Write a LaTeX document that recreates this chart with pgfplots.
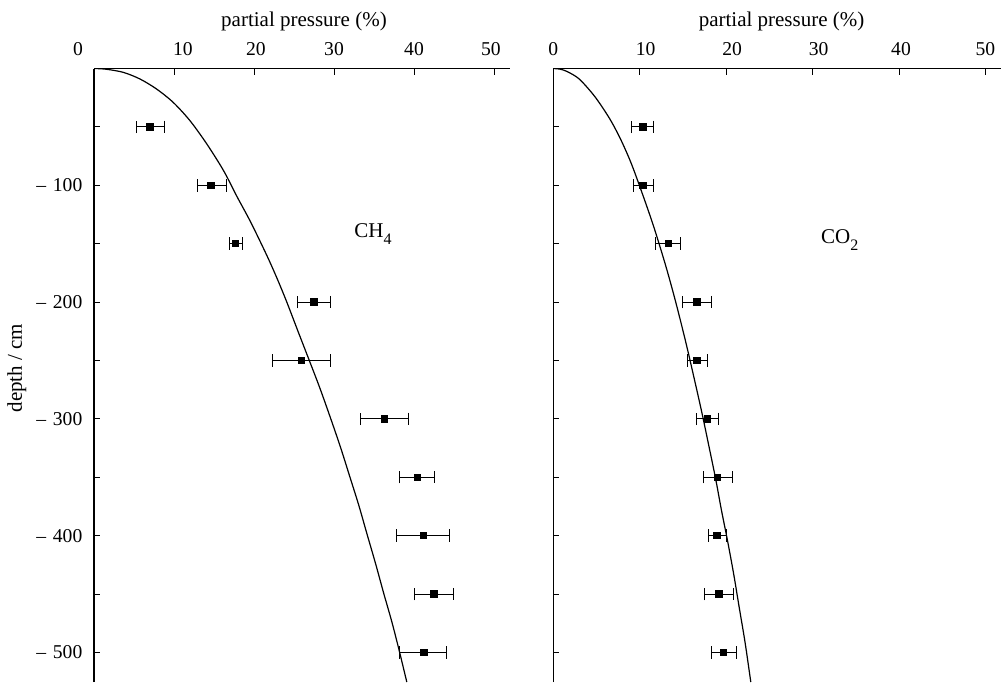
\documentclass[border=0pt]{standalone}
\usepackage{fontspec}
\setmainfont{Liberation Serif}
\usepackage{pgfplots}
\usepackage{pgfplotstable}
\pgfplotsset{compat=1.18}

\pgfplotstableread{
x y ep em
7.0 -50 1.8 1.75
14.6 -100 1.9 1.7
17.7 -150 0.9 0.8
27.5 -200 2.1 2.1
25.9 -250 3.6 3.65
36.3 -300 3.0 3.0
40.4 -350 2.2 2.2
41.2 -400 3.2 3.4
42.5 -450 2.4 2.4
41.25 -500 2.75 3.0
}\chdata

\pgfplotstableread{
x y ep em
10.35 -50 1.25 1.28
10.35 -100 1.19 1.09
13.3 -150 1.4 1.5
16.6 -200 1.7 1.7
16.6 -250 1.2 1.05
17.8 -300 1.26 1.25
19.0 -350 1.7 1.6
18.95 -400 1.05 1.05
19.15 -450 1.65 1.65
19.7 -500 1.5 1.45
}\codata

\newcommand{\sh}[2]{\makebox[0pt]{\hspace{#1}#2\hspace{-#1}}}
\newcommand{\sub}[1]{\raisebox{-3.3pt}{\fontsize{8}{9}\selectfont #1}}

\pgfplotsset{
  mystyle/.style={
    scale only axis,
    height=306.75pt,
    ymin=-525.3, ymax=0,
    xmin=0,
    axis x line=top,
    axis y line=left,
    axis line style={-, line width=0.6pt},
    tick align=inside,
    major tick length=3pt,
    minor tick length=3pt,
    tick style={line width=0.5pt, black},
    xtick={0,10,20,30,40,50},
    ytick={-500,-400,-300,-200,-100},
    minor ytick={-450,-350,-250,-150,-50},
    ticklabel style={font=\fontsize{9.8}{11}\selectfont},
    xticklabel style={yshift=2.8pt},
    yticklabel style={xshift=-2.3pt},
    label style={font=\fontsize{10.5}{12}\selectfont},
    xlabel={partial pressure (\%)},
    xlabel style={at={(axis description cs:0.5,1)}, anchor=base, yshift=21pt, xshift=1pt},
    clip=true,
  },
  errstyle/.style={
    only marks, mark=square*, mark size=1.6pt, black,
    error bars/.cd, x dir=both, x explicit,
    error bar style={line width=0.5pt, black},
    error mark options={rotate=90, mark size=3.1pt, line width=0.5pt, black},
  },
}

\begin{document}
\begin{tikzpicture}
\begin{axis}[mystyle,
  at={(47pt,-34.25pt)}, anchor=north west,
  width=208pt, xmax=52,
  xticklabels={\sh{-8pt}{0},\sh{4.5pt}{10},\sh{1pt}{20},30,40,\sh{-1.5pt}{50}},
  yticklabels={\textendash\hspace{0.35em}500,\textendash\hspace{0.35em}400,\textendash\hspace{0.35em}300,\textendash\hspace{0.35em}200,\textendash\hspace{0.35em}100},
]
\addplot[black, line width=0.6pt, smooth] coordinates {
(0,0) (1.5,-0.6) (3.67,-3.3) (5.75,-9) (7.83,-17.6) (9.9,-29) (12,-44.7)
(14.1,-64.6) (16.2,-87.5) (17.9,-110) (19.6,-131.7) (21.6,-160) (22.9,-180)
(24.1,-200) (25.5,-225) (26.8,-248) (28.2,-273) (29.5,-298) (30.8,-324)
(32,-350) (33.1,-374) (34.1,-398) (35.2,-424) (36.2,-449) (37.2,-473)
(38.1,-497) (39.1,-525.3)
};
\addplot[errstyle] table[x=x, y=y, x error plus=ep, x error minus=em] {\chdata};
\node[anchor=base west, inner sep=0pt, font=\fontsize{10.5}{12}\selectfont] at (axis cs:32.5,-145) {CH\sub{4}};
\end{axis}

\begin{axis}[mystyle,
  at={(276.65pt,-34.25pt)}, anchor=north west,
  width=223.85pt, xmax=51.8,
  xticklabels={0,\sh{3pt}{10},\sh{3pt}{20},\sh{3pt}{30},\sh{1pt}{40},50},
  yticklabels={},
  xlabel style={xshift=1.2pt},
]
\addplot[black, line width=0.6pt, smooth] coordinates {
(0,0) (0.8,-0.6) (1.6,-2.6) (3,-9) (4.8,-24) (6.5,-42.7) (7.75,-60)
(8.95,-80) (10.15,-104) (11.6,-135) (13.05,-170) (14.2,-201) (15.35,-235)
(16.35,-267) (17.2,-295) (18.05,-325) (18.8,-352) (19.45,-378) (20.15,-404)
(20.85,-432) (21.5,-461) (22.2,-492) (22.85,-525.3)
};
\addplot[errstyle] table[x=x, y=y, x error plus=ep, x error minus=em] {\codata};
\node[anchor=base west, inner sep=0pt, font=\fontsize{10.5}{12}\selectfont] at (axis cs:30.95,-150) {CO\sub{2}};
\end{axis}

\node[rotate=90, font=\fontsize{10.5}{12}\selectfont] at (8.35pt,-184pt) {depth / cm};

\pgfresetboundingbox
\path[use as bounding box] (0pt,0pt) rectangle (500.5pt,-341pt);
\end{tikzpicture}
\end{document}
